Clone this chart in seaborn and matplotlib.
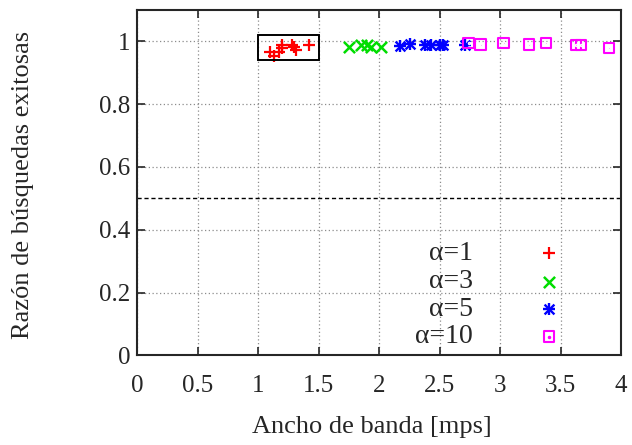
import matplotlib
matplotlib.use("Agg")
import matplotlib.pyplot as plt
import matplotlib.patches as mpatches
import seaborn as sns
import pandas as pd

# Data
x_a1 = [1.10, 1.13, 1.17, 1.20, 1.20, 1.28, 1.31, 1.30, 1.42]
y_a1 = [0.965, 0.955, 0.965, 0.980, 0.990, 0.990, 0.973, 0.982, 0.990]
x_a3 = [1.75, 1.85, 1.90, 1.93, 2.02]
y_a3 = [0.982, 0.990, 0.990, 0.982, 0.982]
x_a5 = [2.17, 2.26, 2.38, 2.43, 2.50, 2.53, 2.71]
y_a5 = [0.985, 0.993, 0.990, 0.990, 0.990, 0.990, 0.990]
x_a10 = [2.74, 2.84, 3.03, 3.24, 3.38, 3.63, 3.67, 3.90]
y_a10 = [0.994, 0.990, 0.994, 0.990, 0.994, 0.988, 0.988, 0.980]
series_labels = ["α=1", "α=3", "α=5", "α=10"]
x_ticks = [0, 0.5, 1, 1.5, 2, 2.5, 3, 3.5, 4]
x_tick_labels = ["0", "0.5", "1", "1.5", "2", "2.5", "3", "3.5", "4"]
y_ticks = [0, 0.2, 0.4, 0.6, 0.8, 1]
y_tick_labels = ["0", "0.2", "0.4", "0.6", "0.8", "1"]
threshold = 0.5
box_x = [1.0, 1.5]
box_y = [0.94, 1.02]

sns.set_style("ticks")
plt.rcParams['font.family'] = ['Liberation Serif', 'DejaVu Serif']

fig = plt.figure(figsize=(6.32, 4.45), dpi=100)
ax = fig.add_axes([0.2168, 0.2016, 0.7658, 0.7759])

colors = ["#ff0000", "#00dd00", "#0000ff", "#ff00ff"]
fs_tick = 18
fs_lab = 19
fs_leg = 20

df = pd.concat([
    pd.DataFrame({"x": x_a1, "y": y_a1, "s": series_labels[0]}),
    pd.DataFrame({"x": x_a3, "y": y_a3, "s": series_labels[1]}),
    pd.DataFrame({"x": x_a5, "y": y_a5, "s": series_labels[2]}),
    pd.DataFrame({"x": x_a10, "y": y_a10, "s": series_labels[3]}),
])

# marker specs: list of (marker, size, linewidth) per series, layered
mk = [
    [("+", 85, 1.6)],
    [("x", 65, 1.8)],
    [("+", 75, 1.7), ("x", 50, 1.7)],
    [("s", 55, 1.5), (".", 9, 1.0)],
]

for lab, col, specs in zip(series_labels, colors, mk):
    d = df[df.s == lab]
    for m, s, lw in specs:
        if m == "s":
            ax.scatter(d.x, d.y, marker=m, s=s, facecolors="none",
                       edgecolors=col, linewidths=lw, zorder=4)
        else:
            sns.scatterplot(data=d, x="x", y="y", marker=m, color=col, s=s,
                            linewidth=lw, ax=ax, legend=False, zorder=4)

# threshold line
ax.axhline(threshold, color="black", linestyle=(0, (3, 2)), linewidth=1.0)

# box around alpha=1
ax.add_patch(mpatches.Rectangle((box_x[0], box_y[0]), box_x[1] - box_x[0],
                                box_y[1] - box_y[0], fill=False,
                                edgecolor="black", linewidth=1.4, zorder=5))

ax.set_xlim(0, 4)
ax.set_ylim(0, 1.1)
ax.set_xticks(x_ticks)
ax.set_xticklabels(x_tick_labels)
ax.set_yticks(y_ticks)
ax.set_yticklabels(y_tick_labels)
ax.grid(True, color="#8c8c8c", linestyle=(0, (1, 2)), linewidth=0.9)
ax.tick_params(direction="in", top=True, right=True, length=6, width=1.2,
               labelsize=fs_tick)
ax.tick_params(axis="x", pad=14)
ax.tick_params(axis="y", pad=5)
for sp in ax.spines.values():
    sp.set_linewidth(1.5)
    sp.set_visible(True)

ax.set_xlabel("Ancho de banda [mps]", fontsize=fs_lab)
ax.set_ylabel("Razón de búsquedas exitosas", fontsize=fs_lab)
ax.xaxis.set_label_coords(0.486, -0.176)
ax.yaxis.set_label_coords(-0.213, 0.493)

# key: right-aligned labels with marker to the right
key_rows = [0.295, 0.213, 0.134, 0.054]
for lab, col, specs, yr in zip(series_labels, colors, mk, key_rows):
    ax.text(0.694, yr, lab, transform=ax.transAxes, ha="right", va="center",
            fontsize=fs_leg)
    for m, s, lw in specs:
        if m == "s":
            ax.scatter([0.851], [yr], marker=m, s=s, facecolors="none",
                       edgecolors=col, linewidths=lw, transform=ax.transAxes,
                       clip_on=False, zorder=4)
        else:
            ax.scatter([0.851], [yr], marker=m, s=s, color=col, linewidths=lw,
                       transform=ax.transAxes, clip_on=False, zorder=4)

fig.savefig("out.png", dpi=100)
